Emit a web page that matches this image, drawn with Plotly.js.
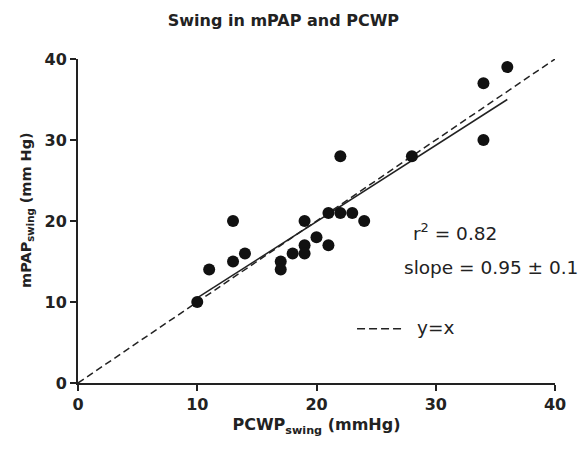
<!DOCTYPE html>
<html><head><meta charset="utf-8">
<script src="https://cdn.plot.ly/plotly-3.0.1.min.js"></script>
<style>html,body{margin:0;padding:0;background:#fff}#chart{width:582px;height:451px}</style>
</head><body><div id="chart"></div>
<script>
const pcwpSwing = [10, 11, 13, 13, 14, 17, 17, 18, 19, 19, 19, 20, 21, 21, 22, 22, 23, 24, 28, 34, 34, 36];
const mpapSwing = [10, 14, 20, 15, 16, 15, 14, 16, 20, 17, 16, 18, 21, 17, 21, 28, 21, 20, 28, 37, 30, 39];
const fitX = [10, 36];
const fitY = [10.5, 35];
const identityX = [0, 40];
const identityY = [0, 40];
const tickVals = [0, 10, 20, 30, 40];
const tickText = ['0', '10', '20', '30', '40'];

const font = '"DejaVu Sans", "Open Sans", sans-serif';
const ink = '#222';
const traces = [
  {x: identityX, y: identityY, mode: 'lines', line: {color: ink, width: 1.5, dash: '7px,4px'}, hoverinfo: 'skip'},
  {x: fitX, y: fitY, mode: 'lines', line: {color: ink, width: 1.5}, hoverinfo: 'skip'},
  {x: pcwpSwing, y: mpapSwing, mode: 'markers', marker: {color: '#111', size: 12}}
];
const axisCommon = {
  range: [0, 40], tickvals: tickVals, ticktext: tickText,
  showgrid: false, zeroline: false, showline: true, linecolor: ink, linewidth: 2,
  ticks: 'outside', ticklen: 6, tickwidth: 2, tickcolor: ink,
  tickfont: {family: font, size: 16, color: ink, weight: 'bold'}
};
const layout = {
  width: 582, height: 451,
  margin: {l: 78, r: 27, t: 59, b: 68},
  paper_bgcolor: '#fff', plot_bgcolor: '#fff',
  showlegend: false,
  title: {text: 'Swing in mPAP and PCWP', x: 0.487, xanchor: 'center', y: 0.955, yanchor: 'middle',
          font: {family: font, size: 16, color: ink, weight: 'bold'}},
  xaxis: Object.assign({}, axisCommon, {
    title: {text: 'PCWP<sub>swing</sub> (mmHg)', standoff: 6, font: {family: font, size: 16, color: ink, weight: 'bold'}}
  }),
  yaxis: Object.assign({}, axisCommon),
  annotations: [
    {x: -0.107, y: 0.534, xref: 'paper', yref: 'paper', text: 'mPAP<sub>swing</sub> (mm Hg)', textangle: -90,
     showarrow: false, xanchor: 'center', yanchor: 'middle',
     font: {family: font, size: 14.5, color: ink, weight: 'bold'}},
    {x: 27.9, y: 18.7, xref: 'x', yref: 'y', text: 'r<sup>2</sup> = 0.82', showarrow: false, xanchor: 'left',
     font: {family: font, size: 18.5, color: ink}},
    {x: 27.15, y: 14.2, xref: 'x', yref: 'y', text: 'slope = 0.95 ± 0.1', showarrow: false, xanchor: 'left',
     font: {family: font, size: 18.5, color: ink}},
    {x: 28.3, y: 6.8, xref: 'x', yref: 'y', text: 'y=x', showarrow: false, xanchor: 'left',
     font: {family: font, size: 18.5, color: ink}}
  ],
  shapes: [
    {type: 'line', xref: 'x', yref: 'y', x0: 23.4, x1: 27.2, y0: 6.7, y1: 6.7, line: {color: ink, width: 1.5, dash: '8px,4px'}}
  ]
};
Plotly.newPlot('chart', traces, layout, {displayModeBar: false, staticPlot: true});
</script></body></html>
